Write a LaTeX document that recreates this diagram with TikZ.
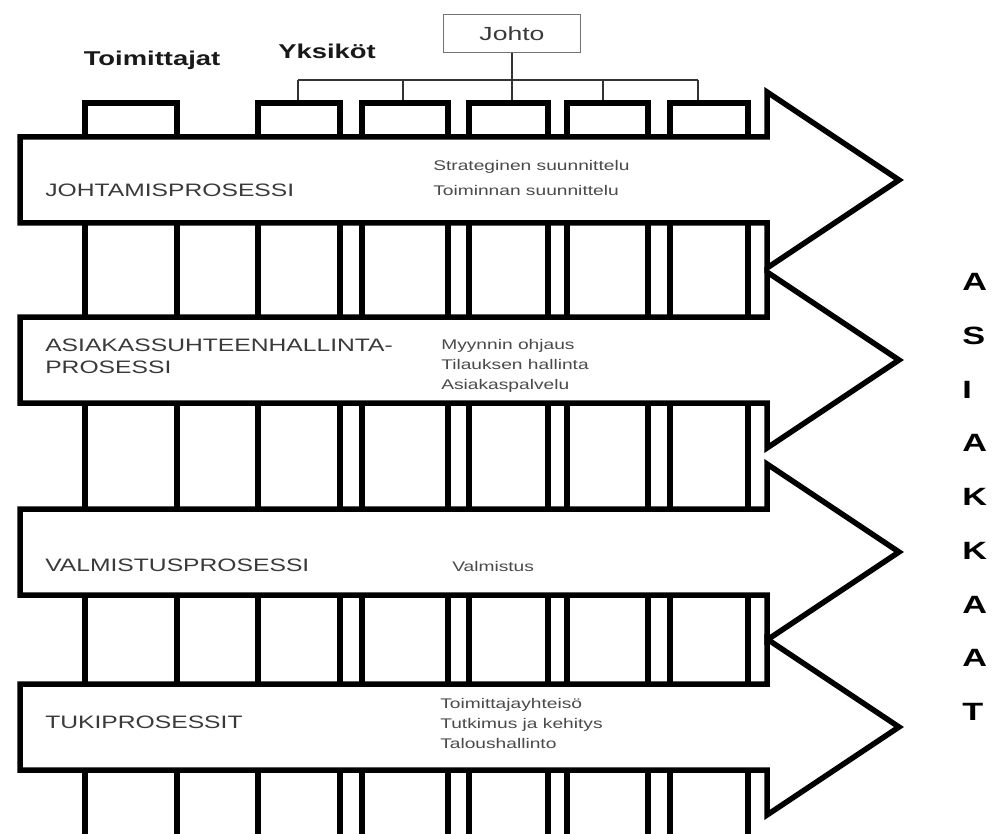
\documentclass[tikz,border=0pt]{standalone}
\usepackage{fontspec}
\setmainfont{Liberation Sans}
\usepackage{graphicx}
\definecolor{inkdark}{HTML}{3A3A3A}
\definecolor{inksoft}{HTML}{4A4A4A}
\tikzset{
  pillar/.style={line width=5.5pt, line join=miter, line cap=butt},
  procarrow/.style={draw=black, fill=white, line width=5.5pt, line join=miter},
  tree/.style={draw=black!80, line width=1.4pt},
  bigtxt/.style={xscale=1.37, inner sep=0pt, anchor=west, align=left,
    text=inkdark, font=\fontsize{18}{22}\selectfont},
  smalltxt/.style={xscale=1.37, inner sep=0pt, anchor=west, align=left,
    text=inksoft, font=\fontsize{14}{20}\selectfont},
  headtxt/.style={xscale=1.37, inner sep=0pt, text=black!90,
    font=\fontsize{20}{24}\selectfont\bfseries},
  letter/.style={xscale=1.37, inner sep=0pt, anchor=west, text=black,
    font=\fontsize{25}{30}\selectfont\bfseries}
}
\begin{document}
\begin{tikzpicture}[x=1pt, y=-1pt]
\useasboundingbox (0,0) rectangle (992,834);

% column headings
\node[headtxt] (supp) at (152,60) {Toimittajat};
\node[headtxt] (units) at (327,51) {Yksiköt};

% management box and its tree to the unit columns
\node[draw=black!55, line width=1pt, minimum width=137pt, minimum height=38pt,
  inner sep=0pt, text=inkdark, font=\fontsize{19}{22}\selectfont] (johto) at (512,34)
  {\scalebox{1.4}[1]{Johto}};
\coordinate (bus) at (512,80);
\coordinate (d1) at (298,103);
\coordinate (d2) at (403,103);
\coordinate (d3) at (512,103);
\coordinate (d4) at (603,103);
\coordinate (d5) at (698,103);
\draw[tree] (johto.south) -- (bus);
\draw[tree] (d1 |- bus) -- (d5 |- bus);
\foreach \i in {1,...,5} \draw[tree] (d\i |- bus) -- (d\i);

% supplier and unit columns running through all processes
\foreach \a/\b in {85/177, 258/340, 362/448, 469/548, 567/648, 670/748}
  \draw[pillar] (\a,834) -- (\a,103) -- (\b,103) -- (\b,834);

% process arrows
\foreach \c in {180,360,552,727}
  \draw[procarrow] (20,{\c-43}) -- (767,{\c-43}) -- (767,{\c-88}) -- (899,\c)
    -- (767,{\c+88}) -- (767,{\c+43}) -- (20,{\c+43}) -- cycle;

% process names
\node[bigtxt] (p1) at (45,190) {JOHTAMISPROSESSI};
\node[bigtxt] (p2) at (45,356) {ASIAKASSUHTEENHALLINTA-\\PROSESSI};
\node[bigtxt] (p3) at (45,565) {VALMISTUSPROSESSI};
\node[bigtxt] (p4) at (45,722) {TUKIPROSESSIT};

% process contents
\node[smalltxt, font=\fontsize{14}{25}\selectfont] (s1) at (433,178)
  {Strateginen suunnittelu\\Toiminnan suunnittelu};
\node[smalltxt] (s2) at (441,366) {Myynnin ohjaus\\Tilauksen hallinta\\Asiakaspalvelu};
\node[smalltxt] (s3) at (452,566) {Valmistus};
\node[smalltxt] (s4) at (440,723) {Toimittajayhteisö\\Tutkimus ja kehitys\\Taloushallinto};

% customers, spelled downwards
\foreach \l [count=\i from 0] in {A,S,I,A,K,K,A,A,T}
  \node[letter] (c\i) at (962,{282+53.75*\i}) {\l};
\end{tikzpicture}
\end{document}
